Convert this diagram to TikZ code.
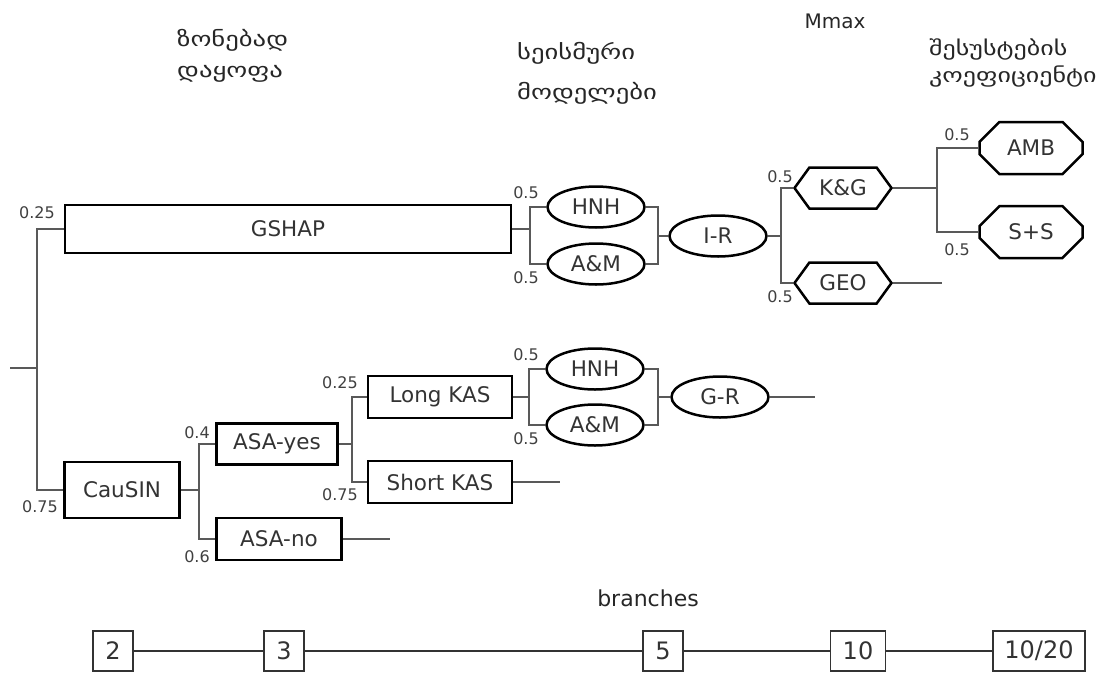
\documentclass[tikz,border=0pt]{standalone}
\usepackage{fontspec}
\setmainfont{DejaVu Sans}
\newfontfamily\geofont[FakeStretch=1.3]{DejaVu Sans}
\usetikzlibrary{shapes.geometric,shapes.symbols,shapes.misc}

\begin{document}
\begin{tikzpicture}[x=1pt,y=-1pt]
\tikzset{box/.style = {rectangle, draw=black, line width=2.5pt, inner sep=0pt, text=black!80, font=\fontsize{21.5}{25}\selectfont}}
\tikzset{oval/.style = {ellipse, draw=black, line width=2.5pt, inner sep=0pt, minimum width=97, minimum height=41, text=black!80, font=\fontsize{21.5}{25}\selectfont}}
\tikzset{hexa/.style = {signal, signal to=west and east, signal pointer angle=108, draw=black, line width=2.5pt, inner sep=0pt, minimum width=97, minimum height=41, text=black!80, font=\fontsize{21.5}{25}\selectfont}}
\tikzset{octa/.style = {chamfered rectangle, chamfered rectangle xsep=12pt, chamfered rectangle ysep=12pt, draw=black, line width=2.5pt, inner sep=0pt, minimum width=103, minimum height=52, text=black!80, font=\fontsize{21.5}{25}\selectfont}}
\tikzset{prob/.style = {inner sep=0pt, text=black!75, font=\fontsize{16}{18}\selectfont}}
\tikzset{head/.style = {align=left, anchor=west, inner sep=0pt, text=black!85, font=\geofont\fontsize{20.5}{31}\selectfont}}
\tikzset{branch/.style = {line width=1.5pt, draw=black!65}}
\tikzset{nbox/.style = {rectangle, draw=black!80, line width=1.6pt, inner sep=0pt, minimum height=40, minimum width=40, text=black!80, font=\fontsize{24}{28}\selectfont}}

\useasboundingbox (0,0) rectangle (1103,675);

    \node[head] (hZone) at (177,56) {ზონებად\\დაყოფა};
    \node[head, font=\geofont\fontsize{20.5}{40}\selectfont] (hModel) at (517,73) {სეისმური\\მოდელები};
    \node[head, anchor=center, font=\fontsize{20}{22}\selectfont] (hMmax) at (835,21) {Mmax};
    \node[head, font=\geofont\fontsize{20}{27}\selectfont] (hAtten) at (929,63) {შესუსტების\\კოეფიციენტი};

    \node[box, minimum width=446, minimum height=48] (gshap) at (288,229) {GSHAP};
    \node[box, minimum width=115, minimum height=56] (causin) at (122,490) {CauSIN};
    \node[box, minimum width=121, minimum height=41] (asayes) at (277,444) {ASA-yes};
    \node[box, minimum width=125, minimum height=42] (asano) at (279,539) {ASA-no};
    \node[box, minimum width=144, minimum height=42] (longkas) at (440,397) {Long KAS};
    \node[box, minimum width=144, minimum height=42] (shortkas) at (440,482) {Short KAS};

    \node[oval] (hnhA) at (596,207) {HNH};
    \node[oval] (amA) at (596,264) {A\&M};
    \node[oval] (ir) at (718,236) {I-R};
    \node[oval] (hnhB) at (595,369) {HNH};
    \node[oval] (amB) at (595,425) {A\&M};
    \node[oval] (gr) at (720,397) {G-R};

    \node[hexa] (kg) at (843,188) {K\&G};
    \node[hexa] (geo) at (843,283) {GEO};
    \node[octa] (amb) at (1031,148) {AMB};
    \node[octa] (ss) at (1031,232) {S+S};

\coordinate (root) at (10,368);
\coordinate (f0) at (37,368);
\coordinate (f1) at (530,229);
\coordinate (f2) at (199,490);
\coordinate (f3) at (352,444);
\coordinate (f4) at (529,397);
\coordinate (f5) at (658,397);
\coordinate (f6) at (658,236);
\coordinate (f7) at (781,236);
\coordinate (f8) at (937,188);
\coordinate (asanoEnd) at (390,539);
\coordinate (shortEnd) at (560,482);
\coordinate (grEnd) at (815,397);
\coordinate (geoEnd) at (942,283);

\draw[branch] (root) -- (f0);
\draw[branch] (gshap.west) -| (f0) |- (causin.west);
\draw[branch] (gshap.east) -- (f1);
\draw[branch] (hnhA.west) -| (f1) |- (amA.west);
\draw[branch] (hnhA.east) -| (f6) |- (amA.east);
\draw[branch] (f6) -- (ir.west);
\draw[branch] (ir.east) -- (f7);
\draw[branch] (kg.west) -| (f7) |- (geo.west);
\draw[branch] (geo.east) -- (geoEnd);
\draw[branch] (kg.east) -- (f8);
\draw[branch] (amb.west) -| (f8) |- (ss.west);

\draw[branch] (causin.east) -- (f2);
\draw[branch] (asayes.west) -| (f2) |- (asano.west);
\draw[branch] (asano.east) -- (asanoEnd);
\draw[branch] (asayes.east) -- (f3);
\draw[branch] (longkas.west) -| (f3) |- (shortkas.west);
\draw[branch] (shortkas.east) -- (shortEnd);
\draw[branch] (longkas.east) -- (f4);
\draw[branch] (hnhB.west) -| (f4) |- (amB.west);
\draw[branch] (hnhB.east) -| (f5) |- (amB.east);
\draw[branch] (f5) -- (gr.west);
\draw[branch] (gr.east) -- (grEnd);

    \node[prob] (pGshap) at (37,213) {0.25};
    \node[prob] (pCausin) at (40,507) {0.75};
    \node[prob] (pYes) at (197,433) {0.4};
    \node[prob] (pNo) at (197,557) {0.6};
    \node[prob] (pLong) at (340,383) {0.25};
    \node[prob] (pShort) at (340,495) {0.75};
    \node[prob] (pHnhA) at (526,193) {0.5};
    \node[prob] (pAmA) at (526,278) {0.5};
    \node[prob] (pHnhB) at (526,355) {0.5};
    \node[prob] (pAmB) at (526,439) {0.5};
    \node[prob] (pKg) at (780,177) {0.5};
    \node[prob] (pGeo) at (780,297) {0.5};
    \node[prob] (pAmb) at (957,135) {0.5};
    \node[prob] (pSs) at (957,250) {0.5};

    \node[head, anchor=center, font=\fontsize{22}{24}\selectfont] (hBranch) at (648,598) {branches};
    \node[nbox] (n2) at (113,651) {2};
    \node[nbox] (n3) at (284,651) {3};
    \node[nbox] (n5) at (663,651) {5};
    \node[nbox, minimum width=55] (n10) at (858,651) {10};
    \node[nbox, minimum width=92] (n1020) at (1039,651) {10/20};
\draw[line width=1.8pt, draw=black!80] (n2) -- (n3) -- (n5) -- (n10) -- (n1020);
\end{tikzpicture}
\end{document}
